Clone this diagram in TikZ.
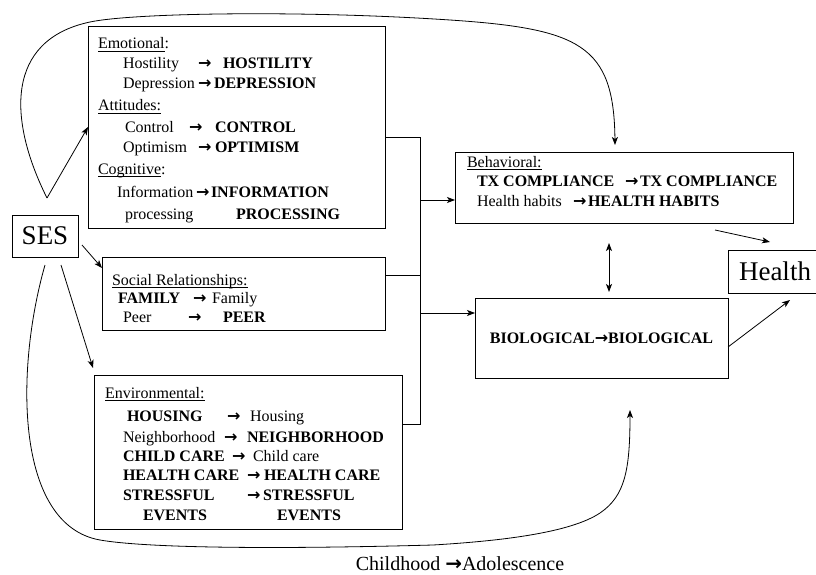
\documentclass[tikz,border=0pt]{standalone}
\usepackage{fontspec}
\setmainfont{Liberation Serif}
\newfontfamily\arrfont{DejaVu Sans}
\usetikzlibrary{arrows.meta,calc}
\newsavebox\ulbox
\newcommand\uln[1]{\sbox\ulbox{#1}\rlap{\rule[-2.5pt]{\wd\ulbox}{0.7pt}}\usebox\ulbox}
\newcommand\rarr{{\arrfont\bfseries →}}
\tikzset{
 box/.style={draw, line width=0.9pt, inner sep=0pt, outer sep=0pt, rectangle},
 txt/.style={anchor=base west, inner sep=0pt, outer sep=0pt, font=\fontsize{16}{20}\selectfont},
 btxt/.style={anchor=base west, inner sep=0pt, outer sep=0pt, font=\fontsize{16}{20}\selectfont\bfseries},
 con/.style={line width=0.8pt},
 tip/.tip={Stealth[length=8pt,width=6pt,inset=2pt]},
 arr/.style={con, -tip},
 darr/.style={con, tip-tip},
}
\begin{document}
\begin{tikzpicture}[x=1pt,y=-1pt]
\useasboundingbox (0,0) rectangle (816,575);
\clip (0,0) rectangle (816,575);

% boxes
\node[box, minimum width=66pt, minimum height=42pt, font=\fontsize{27}{30}\selectfont] (ses) at (45,236) {SES};
\node[box, minimum width=297pt, minimum height=202pt] (emo) at (236.5,127) {};
\node[box, minimum width=283pt, minimum height=73pt] (soc) at (243.5,293.5) {};
\node[box, minimum width=308pt, minimum height=154pt] (env) at (248,452) {};
\node[box, minimum width=338pt, minimum height=71pt] (beh) at (624,187.5) {};
\node[box, minimum width=253pt, minimum height=80pt, font=\fontsize{16}{20}\selectfont\bfseries] (bio) at (601.5,338) {BIOLOGICAL\rarr BIOLOGICAL};
\node[box, minimum width=94pt, minimum height=43pt, font=\fontsize{27}{30}\selectfont] (health) at (775,271.5) {Health};

% Emotional box text
\node[txt] (e0) at (98,49) {\uln{Emotional}:};
\node[txt] (e1a) at (123,69) {Hostility};
\node[txt] (e1b) at (198,69) {\rarr};
\node[btxt] (e1c) at (223,69) {HOSTILITY};
\node[txt] (e2a) at (123,89) {Depression};
\node[txt] (e2b) at (198,89) {\rarr};
\node[btxt] (e2c) at (214,89) {DEPRESSION};
\node[txt] (e3) at (98,111) {\uln{Attitudes:}};
\node[txt] (e4a) at (125,132) {Control};
\node[txt] (e4b) at (189,132) {\rarr};
\node[btxt] (e4c) at (215,132) {CONTROL};
\node[txt] (e5a) at (123,152) {Optimism};
\node[txt] (e5b) at (198,152) {\rarr};
\node[btxt] (e5c) at (215,152) {OPTIMISM};
\node[txt] (e6) at (98,174) {\uln{Cognitive}:};
\node[txt] (e7a) at (117,197) {Information};
\node[txt] (e7b) at (196,197) {\rarr};
\node[btxt] (e7c) at (211,197) {INFORMATION};
\node[txt] (e8a) at (125,219) {processing};
\node[btxt] (e8c) at (236,219) {PROCESSING};

% Social box text
\node[txt] (s0) at (112,285) {\uln{Social Relationships:}};
\node[btxt] (s1a) at (118,303) {FAMILY};
\node[txt] (s1b) at (193,303) {\rarr};
\node[txt] (s1c) at (212,303) {Family};
\node[txt] (s2a) at (123,322) {Peer};
\node[txt] (s2b) at (188,322) {\rarr};
\node[btxt] (s2c) at (223,322) {PEER};

% Environmental box text
\node[txt] (v0) at (105,398) {\uln{Environmental:}};
\node[btxt] (v1a) at (127,421) {HOUSING};
\node[txt] (v1b) at (227,421) {\rarr};
\node[txt] (v1c) at (250,421) {Housing};
\node[txt] (v2a) at (123,442) {Neighborhood};
\node[txt] (v2b) at (224,442) {\rarr};
\node[btxt] (v2c) at (247,442) {NEIGHBORHOOD};
\node[btxt] (v3a) at (123,461) {CHILD CARE};
\node[txt] (v3b) at (232,461) {\rarr};
\node[txt] (v3c) at (253,461) {Child care};
\node[btxt] (v4a) at (123,480) {HEALTH CARE};
\node[txt] (v4b) at (247,480) {\rarr};
\node[btxt] (v4c) at (264,480) {HEALTH CARE};
\node[btxt] (v5a) at (123,500) {STRESSFUL};
\node[txt] (v5b) at (247,500) {\rarr};
\node[btxt] (v5c) at (263,500) {STRESSFUL};
\node[btxt] (v6a) at (143,520) {EVENTS};
\node[btxt] (v6c) at (277,520) {EVENTS};

% Behavioral box text
\node[txt] (b0) at (467,167) {\uln{Behavioral:}};
\node[btxt] (b1a) at (477,186) {TX COMPLIANCE};
\node[txt] (b1b) at (625,186) {\rarr};
\node[btxt] (b1c) at (640,186) {TX COMPLIANCE};
\node[txt] (b2a) at (477,206) {Health habits};
\node[txt] (b2b) at (573,206) {\rarr};
\node[btxt] (b2c) at (588,206) {HEALTH HABITS};

% bottom caption
\node[inner sep=0pt, font=\fontsize{20}{24}\selectfont] (cap) at (460,564) {Childhood \rarr Adolescence};

% connector junctions
\coordinate (jt) at (420,137);
\coordinate (js) at (420,275);
\coordinate (je) at (420,424);
\coordinate (jb) at (420,200);
\coordinate (jbio) at (420,313);
\draw[con] (jt -| emo.east) -- (jt) -- (je) -- (je -| env.east);
\draw[con] (js -| soc.east) -- (js);
\draw[arr] (jb) -- (jb -| beh.west);
\draw[arr] (jbio) -- (jbio -| bio.west);

% behavioral <-> biological
\coordinate (d1) at (609,243);
\coordinate (d2) at (609,292);
\draw[darr] (d1) -- (d2);

% to Health
\coordinate (bh1) at (715,230);
\coordinate (bh2) at (770,242);
\draw[arr] (bh1) -- (bh2);
\coordinate (gh2) at (790,300);
\draw[arr] ($(bio.east)+(0,9)$) -- (gh2);

% SES arrows
\coordinate (apex) at (47,198);
\draw[arr] (apex) -- (emo.west);
\coordinate (ss1) at (82,245);
\draw[arr] (ss1) -- ($(soc.north west)+(0,11)$);
\coordinate (se1) at (61,265);
\draw[arr] (se1) -- ($(env.north west)+(-1,-7)$);

% top curve
\coordinate (tt) at (615,145);
\draw[arr] (apex) .. controls (8,120) and (5,40) .. (90,22)
  .. controls (132.5,13) and (300,10) .. (450,20)
  .. controls (580,28.7) and (614,45) .. (tt);

% bottom curve
\coordinate (bs) at (45,265);
\coordinate (bt) at (630,410);
\draw[arr] (bs) .. controls (15,370) and (15,525) .. (100,540)
  .. controls (140,547) and (250,550) .. (433,545)
  .. controls (500,541) and (570,533) .. (600,513)
  .. controls (625,496) and (630,470) .. (bt);
\end{tikzpicture}
\end{document}
